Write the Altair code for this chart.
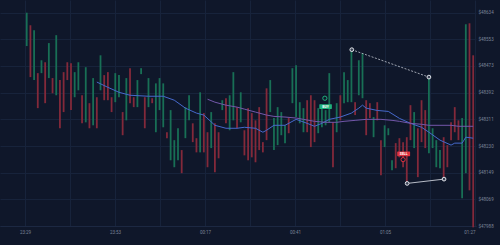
import altair as alt
import pandas as pd

# ---------------- data ----------------
highs = [48634,48596,48581,48451,48490,48484,48542,48436,48566,48430,
         48454,48484,48481,48454,48484,48384,48469,48360,48436,48378,
         48505,48445,48454,48378,48451,48445,48333,48436,48466,48378,
         48430,48466,48378,48436,48375,48420,48436,48420,48272,48339,
         48248,48284,48218,48348,48384,48299,48254,48393,48330,48272,
         48333,48299,48272,48369,48375,48384,48454,48348,48393,48278,
         48345,48330,48308,48348,48242,48405,48430,48315,48348,48333,
         48293,48315,48466,48475,48363,48345,48369,48384,48369,48345,
         48354,48339,48451,48302,48360,48384,48454,48430,48524,48363,
         48490,48511,48369,48360,48318,48363,48248,48293,48284,48187,
         48239,48254,48242,48257,48354,48333,48284,48369,48339,48439,
         48284,48248,48218,48257,48233,48302,48348,48308,48315,48599,
         48602,48505]
lows = [48533,48439,48430,48345,48451,48360,48436,48390,48384,48284,
        48333,48430,48339,48378,48399,48299,48302,48284,48293,48284,
        48399,48369,48369,48333,48363,48378,48263,48308,48360,48348,
        48348,48448,48284,48348,48360,48272,48339,48287,48254,48187,
        48166,48187,48148,48254,48308,48242,48211,48211,48211,48166,
        48224,48151,48193,48339,48299,48278,48308,48284,48302,48202,
        48187,48196,48181,48218,48211,48248,48333,48218,48233,48263,
        48239,48269,48360,48318,48299,48272,48272,48227,48242,48269,
        48287,48293,48302,48166,48272,48308,48360,48363,48363,48324,
        48384,48375,48263,48315,48257,48308,48142,48227,48263,48157,
        48163,48196,48166,48117,48248,48224,48136,48242,48224,48208,
        48224,48166,48163,48136,48166,48248,48272,48248,48072,48148,
        48096,47984]
dirs = list("GRGRGRGRGR" "RRRGGRGRGR" "GRRRGGRGRR" "GGRGRGGGRG"
            "GGRGGRRGRR" "GRRGRGGRGR" "RRRRRRGGGG" "GRGGGGRRRG"
            "GGGRGRGGGR" "GGRRGRRGGG" "RRRRRGRRRG" "GGGRRRRRGG" "RR")

blue_idx = [19,22,25,28,33,37,40,43,46,48,51,54,57,59,62,64,65,67,70,73,76,78,
            80,82,85,88,90,91,92,95,98,101,104,107,109,112,115,116,118,119,121]
blue_val = [48424,48408,48393,48384,48381,48381,48369,48345,48330,48324,48293,
            48284,48284,48287,48284,48272,48278,48293,48293,48311,48299,48290,
            48299,48311,48318,48330,48345,48354,48345,48338,48335,48314,48299,
            48287,48272,48248,48233,48239,48239,48257,48254]

purple_idx = [49,51,54,57,59,62,65,67,70,73,75,78,81,84,86,89,92,96,99,101,104,107,109,112,115,117,121]
purple_val = [48372,48363,48354,48348,48342,48333,48324,48320,48318,48315,48311,
              48305,48302,48302,48305,48308,48311,48311,48308,48305,48299,48296,
              48293,48293,48293,48290,48290]

dash_idx = [88.1, 109.0]
dash_val = [48522, 48439]
solid_idx = [103.1, 113.1]
solid_val = [48117, 48130]

sig_text = ["BUY", "SELL"]
sig_color = ["#1fb27c", "#e0323f"]
sig_x1 = [79.3, 100.4]
sig_x2 = [82.7, 103.9]
sig_y1 = [48357, 48214]
sig_y2 = [48342, 48199]
sig_mark_idx = [80.8, 102.0]
sig_mark_val = [48375, 48189]

y_ticks = [48634, 48553, 48473, 48392, 48311, 48230, 48149, 48069, 47988]
x_ticks = [-0.46, 11.73, 23.93, 36.12, 48.32, 60.51, 72.71, 84.91, 97.1, 109.3, 121.49]
x_labels = ["23:29", "", "23:53", "", "00:17", "", "00:41", "", "01:05", "", "01:27"]

# ---------------- build ----------------
BG = "#0f172a"
GRID = "#17233b"
LABEL = "#7a8497"

candles = pd.DataFrame({"x": list(range(len(highs))), "y": highs, "y2": lows, "d": dirs})

label_expr = "[" + ",".join("'%s'" % s for s in x_labels) + "][indexof([" + \
    ",".join(str(v) for v in x_ticks) + "], datum.value)]"

xs = alt.Scale(domain=[-7.24, 121.76], nice=False, zero=False)
ys = alt.Scale(domain=[47988, 48672.5], nice=False, zero=False)

x_axis = alt.Axis(values=x_ticks, labelExpr=label_expr, title="", grid=True,
                  gridColor=GRID, gridWidth=1, ticks=False, domain=True,
                  domainColor="#1c2842", labelColor=LABEL, labelFontSize=4.5,
                  labelPadding=3, labelFont="Roboto")
y_axis = alt.Axis(values=y_ticks, labelExpr="'$' + datum.value", title="",
                  orient="right", grid=True, gridColor=GRID, gridWidth=1,
                  ticks=False, domain=False, labelColor=LABEL, labelFontSize=4.5,
                  labelPadding=2, labelFont="Roboto", labelBaseline="middle")

X = alt.X("x:Q", scale=xs, axis=x_axis)
Y = alt.Y("y:Q", scale=ys, axis=y_axis)

candle_layer = alt.Chart(candles).mark_rule(strokeWidth=1.8).encode(
    x=X, y=Y, y2="y2:Q",
    color=alt.Color("d:N", scale=alt.Scale(domain=["G", "R"], range=["#186f55", "#83293a"]), legend=None),
)

blue = alt.Chart(pd.DataFrame({"x": blue_idx, "y": blue_val})).mark_line(
    color="#4669cc", strokeWidth=1).encode(x=X, y=Y)
purple = alt.Chart(pd.DataFrame({"x": purple_idx, "y": purple_val})).mark_line(
    color="#7357aa", strokeWidth=1).encode(x=X, y=Y)

dash = alt.Chart(pd.DataFrame({"x": dash_idx, "y": dash_val})).mark_line(
    color="#c3c8d2", strokeWidth=0.8, strokeDash=[2, 1.5]).encode(x=X, y=Y)
solid = alt.Chart(pd.DataFrame({"x": solid_idx, "y": solid_val})).mark_line(
    color="#c9ced8", strokeWidth=0.9).encode(x=X, y=Y)

dots = alt.Chart(pd.DataFrame({"x": dash_idx + solid_idx, "y": dash_val + solid_val})).mark_point(
    shape="circle", size=14, filled=False, stroke="#e3e6ec", strokeWidth=1, fill="#3a4255", fillOpacity=1
).encode(x=X, y=Y)

sig = pd.DataFrame({"x": sig_x1, "x2": sig_x2, "y": sig_y1, "y2": sig_y2,
                    "t": sig_text, "c": sig_color,
                    "xc": [(a + b) / 2 for a, b in zip(sig_x1, sig_x2)],
                    "yc": [(a + b) / 2 for a, b in zip(sig_y1, sig_y2)]})
sig_rect = alt.Chart(sig).mark_rect(cornerRadius=0.5).encode(
    x=X, x2="x2:Q", y=Y, y2="y2:Q", color=alt.Color("c:N", scale=None))
sig_txt = alt.Chart(sig).mark_text(fontSize=3.4, fontWeight="bold", color="#ffffff",
                                   font="Roboto", baseline="middle").encode(
    x=alt.X("xc:Q", scale=xs, axis=x_axis), y=alt.Y("yc:Q", scale=ys, axis=y_axis), text="t:N")
sig_mark = alt.Chart(pd.DataFrame({"x": sig_mark_idx, "y": sig_mark_val, "c": sig_color})).mark_point(
    shape="circle", size=18, filled=False, strokeWidth=1, fill=BG, fillOpacity=1
).encode(x=X, y=Y, stroke=alt.Stroke("c:N", scale=None))

chart = alt.layer(candle_layer, blue, purple, dash, solid, dots, sig_rect, sig_txt, sig_mark).properties(
    width=476, height=226,
    background=BG,
    padding={"left": 0, "top": 0, "right": 24, "bottom": 19},
    autosize=alt.AutoSizeParams(type="none"),
).configure_view(stroke=None)

chart.save("out.html", embed_options={"renderer": "svg", "actions": False})
